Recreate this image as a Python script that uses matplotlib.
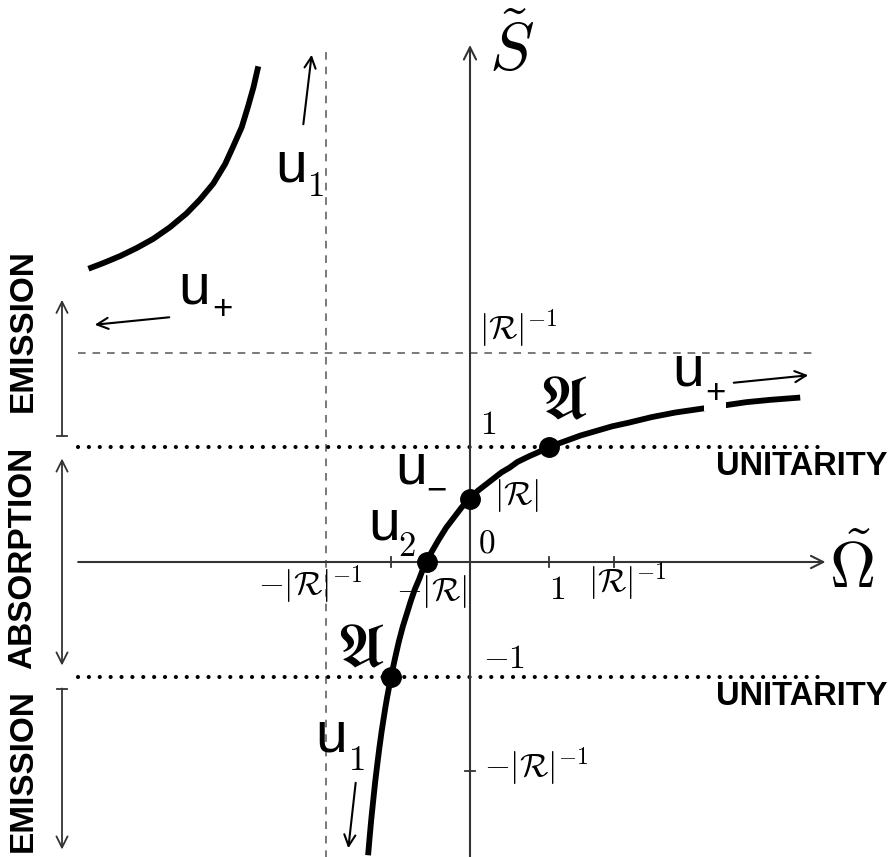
import matplotlib
matplotlib.use("Agg")
import matplotlib.pyplot as plt

plt.rcParams['mathtext.fontset'] = 'cm'

# reflection magnitude |R|
R = 0.55

# curve points (Omega, S)
left_om = [-4.83, -4.64, -4.43, -4.22, -4.01, -3.80, -3.59, -3.42, -3.25, -3.10,
           -3.00, -2.89, -2.81, -2.74, -2.68]
left_s = [2.55, 2.60, 2.66, 2.73, 2.81, 2.91, 3.03, 3.15, 3.29, 3.46,
          3.61, 3.78, 3.96, 4.13, 4.31]
right_om = [-1.29, -1.27, -1.25, -1.22, -1.2, -1.17, -1.15, -1.12, -1.1, -1.07, -1.05,
            -1.0, -0.95, -0.9, -0.85, -0.8, -0.75, -0.7, -0.65, -0.6, -0.55, -0.5,
            -0.4, -0.3, -0.2, -0.1, 0.0, 0.1, 0.25, 0.4, 0.5, 0.6, 0.75, 0.85, 1.0,
            1.2, 1.4, 1.6, 1.8, 2.0, 2.3, 2.6, 2.9, 3.2, 3.5, 3.8, 4.18]
right_s = [-2.55, -2.39, -2.24, -2.04, -1.91, -1.74, -1.63, -1.48, -1.39, -1.26, -1.18,
           -1.0, -0.84, -0.69, -0.56, -0.45, -0.34, -0.24, -0.16, -0.07, 0.0, 0.07,
           0.19, 0.30, 0.39, 0.48, 0.55, 0.62, 0.70, 0.78, 0.82, 0.87, 0.92, 0.95, 1.0,
           1.05, 1.10, 1.14, 1.18, 1.21, 1.26, 1.30, 1.33, 1.36, 1.39, 1.41, 1.43]

# marked points: u+ side unitarity, u-, u2, u1 side unitarity
pts_om = [1.0, 0.0, -R, -1.0]
pts_s = [1.0, R, 0.0, -1.0]

xticks_om = [-1.0, 1.0, 1 / R]
yticks_s = [-1 / R]

fig = plt.figure(figsize=(8.94, 8.57), dpi=100)
ax = fig.add_axes([0, 0, 1, 1])
ax.set_xlim(-470 / 79, 424 / 79)
ax.set_ylim(-295 / 115, 562 / 115)
ax.axis('off')

axcol = '#333333'
# axes
ax.annotate('', xy=(4.50, 0), xytext=(-4.96, 0),
            arrowprops=dict(arrowstyle='->', lw=1.5, color=axcol, mutation_scale=22,
                            shrinkA=0, shrinkB=0))
ax.annotate('', xy=(0, 4.52), xytext=(0, -2.6),
            arrowprops=dict(arrowstyle='->', lw=1.5, color=axcol, mutation_scale=22))
ax.text(4.83, -0.06, r'$\tilde{\Omega}$', fontsize=46, ha='center', va='center')
ax.text(0.53, 4.44, r'$\tilde{S}$', fontsize=48, ha='center', va='center')

# asymptotes
ax.plot([-1 / R, -1 / R], [-2.6, 4.45], color='#555555', lw=1.1, dashes=(5, 4.5))
ax.plot([-4.96, 4.40], [1 / R, 1 / R], color='#555555', lw=1.1, dashes=(5, 4.5))

# unitarity lines
for s in [1.0, -1.0]:
    ax.plot([-4.96, 4.40], [s, s], color='black', lw=3.0, dashes=(0.01, 2.6),
            dash_capstyle='round')

# ticks
for t in xticks_om:
    ax.plot([t, t], [-0.04, 0.04], color=axcol, lw=1.3)
for t in yticks_s:
    ax.plot([-0.06, 0.06], [t, t], color=axcol, lw=1.3)

# curve
ax.plot(left_om, left_s, color='black', lw=4.2, solid_capstyle='butt',
        solid_joinstyle='round')
ax.plot(right_om, right_s, color='black', lw=4.2, solid_capstyle='butt',
        solid_joinstyle='round')
ax.plot(pts_om, pts_s, 'o', color='black', ms=14, zorder=5)

# math labels
mfs = 24
ax.text(0.12, 2.03, r'$|\mathcal{R}|^{-1}$', fontsize=mfs, ha='left', va='center')
ax.text(0.23, 1.20, r'$1$', fontsize=mfs, ha='center', va='center')
ax.text(0.30, 0.58, r'$|\mathcal{R}|$', fontsize=mfs, ha='left', va='center')
ax.text(0.21, 0.165, r'$0$', fontsize=mfs, ha='center', va='center')
ax.text(-2.03, -0.20, r'$-|\mathcal{R}|^{-1}$', fontsize=mfs, ha='center', va='center')
ax.text(-0.49, -0.26, r'$-|\mathcal{R}|$', fontsize=mfs, ha='center', va='center')
ax.text(1.10, -0.24, r'$1$', fontsize=mfs, ha='center', va='center')
ax.text(1.50, -0.17, r'$|\mathcal{R}|^{-1}$', fontsize=mfs, ha='left', va='center')
ax.text(0.43, -0.835, r'$-1$', fontsize=mfs, ha='center', va='center')
ax.text(0.18, -1.78, r'$-|\mathcal{R}|^{-1}$', fontsize=mfs, ha='left', va='center')

ax.text(1.18, 1.40, r'$\mathfrak{A}$', fontsize=44, ha='center', va='center')
ax.text(-1.39, -0.76, r'$\mathfrak{A}$', fontsize=44, ha='center', va='center')

# u labels
sans = 'Liberation Sans'
def ulabel(px, py, sub, sx, sy, subsans=False, bg=False):
    ax.text((px - 470) / 79, (562 - py) / 115, 'u', fontsize=41, family=sans,
            ha='center', va='center')
    kw = dict(fontsize=25, ha='center', va='center')
    if bg:
        kw['bbox'] = dict(facecolor='white', edgecolor='none', pad=0.5)
    if subsans:
        ax.text((sx - 470) / 79, (562 - sy) / 115, sub, family=sans, **kw)
    else:
        ax.text((sx - 470) / 79, (562 - sy) / 115, '$' + sub + '$', **kw)

ulabel(291, 166, '1', 315, 186)
ulabel(194, 288, '+', 222, 310, subsans=True)
ulabel(688, 370, '+', 715, 394, subsans=True, bg=True)
ulabel(411, 468, '\u2212', 436, 491, subsans=True)
ulabel(384, 524, '2', 407, 546)
ulabel(331, 737, '1', 356, 760)

def arrow(x0, y0, x1, y1):
    ax.annotate('', xy=((x1 - 470) / 79, (562 - y1) / 115),
                xytext=((x0 - 470) / 79, (562 - y0) / 115),
                arrowprops=dict(arrowstyle='->', lw=1.5, color='black',
                                mutation_scale=20))

arrow(303, 127, 312, 52)
arrow(172, 317, 92, 325)
arrow(731, 383, 811, 375)
arrow(356, 780, 348, 851)

# side regions
sx = (62 - 470) / 79
bw = 5 / 79
side = dict(lw=1.3, color=axcol, mutation_scale=20, shrinkA=0, shrinkB=0)
ax.annotate('', xy=(sx, 2.28), xytext=(sx, 1.10),
            arrowprops=dict(arrowstyle='->', **side))
ax.plot([sx - bw, sx + bw], [1.10, 1.10], color=axcol, lw=1.3)
ax.annotate('', xy=(sx, 0.90), xytext=(sx, -0.90),
            arrowprops=dict(arrowstyle='<->', **side))
ax.annotate('', xy=(sx, -2.50), xytext=(sx, -1.10),
            arrowprops=dict(arrowstyle='->', **side))
ax.plot([sx - bw, sx + bw], [-1.10, -1.10], color=axcol, lw=1.3)

tx = (23 - 470) / 79
bold = dict(fontsize=24, family=sans, fontweight='bold', rotation=90,
            ha='center', va='center')
ax.text(tx, 2.01, 'EMISSION', **bold)
ax.text(tx, 0.04, 'ABSORPTION', **bold)
ax.text(tx, -1.81, 'EMISSION', **bold)

ux = (888 - 470) / 79
ax.text(ux, 0.83, 'UNITARITY', fontsize=23.5, family=sans, fontweight='bold',
        ha='right', va='center')
ax.text(ux, -1.17, 'UNITARITY', fontsize=23.5, family=sans, fontweight='bold',
        ha='right', va='center')

fig.savefig('out.png', dpi=100)
